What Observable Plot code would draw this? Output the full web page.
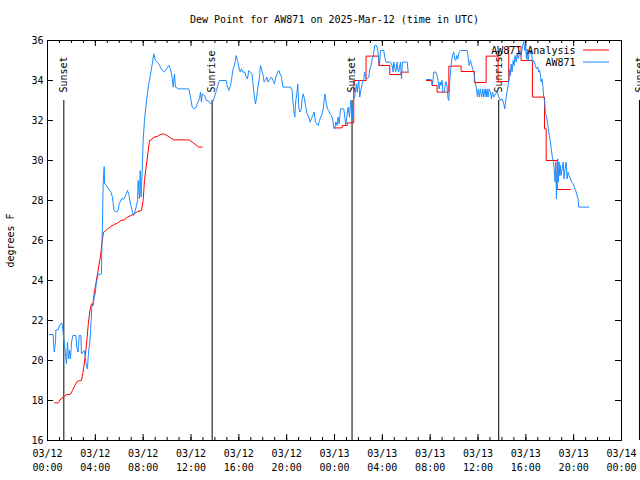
<!DOCTYPE html>
<html><head><meta charset="utf-8">
<script src="https://cdn.jsdelivr.net/npm/d3@7"></script>
<script src="https://cdn.jsdelivr.net/npm/@observablehq/plot@0.6"></script>
<style>body{margin:0;background:#fff} svg{display:block}</style>
</head><body><div id="chart"></div>
<script>
// ---- data (hours since 2025-03-12 00:00 UTC, dew point °F) ----
const titleText = "Dew Point for AW871 on 2025-Mar-12 (time in UTC)";
const yLabel = "degrees F";
const seriesNames = ["AW871 Analysis", "AW871"];
const yTicks = [16,18,20,22,24,26,28,30,32,34,36];

const aw871Obs = [
[0.14,21.3],[0.47,21.3],[0.56,20.42],[0.67,20.92],[0.70,21.53],[0.89,21.53],[0.98,21.72],[1.17,21.88],[1.25,21.75],[1.34,21.17],[1.42,20.83],[1.59,19.83],[1.67,20.92],[1.76,20.08],[1.84,20.5],[1.92,20.08],[2.01,20.92],[2.12,21.25],[2.37,21.25],[2.45,20.67],[2.56,20.42],[2.65,21.25],[2.79,21.25],[2.84,20.33],[2.95,20.42],[3.07,20.5],[3.15,20.25],[3.23,19.83],[3.34,19.58],[3.43,20.42],[3.54,20.92],[3.65,22.0],[3.71,22.75],[3.82,22.75],[3.90,23.17],[3.99,23.33],[4.07,23.83],[4.24,24.33],[4.40,24.3],[4.51,24.33],[4.54,25.5],[4.60,26.92],[4.65,28.75],[4.74,29.7],[4.77,28.83],[4.93,28.75],[5.10,28.58],[5.30,28.42],[5.43,28.17],[5.57,27.5],[5.74,27.42],[5.91,27.5],[5.99,27.83],[6.19,28.08],[6.41,28.08],[6.58,28.33],[6.69,28.5],[6.83,28.25],[6.88,28.0],[6.97,27.75],[7.11,27.42],[7.19,27.25],[7.30,27.42],[7.41,27.67],[7.53,28.0],[7.58,29.0],[7.69,28.08],[7.75,29.5],[7.83,28.17],[7.92,29.5],[8.0,31.0],[8.11,32.0],[8.28,33.0],[8.47,33.83],[8.67,34.5],[8.89,35.33],[9.03,35.0],[9.31,34.83],[9.59,34.5],[9.73,34.42],[9.95,34.58],[10.14,34.75],[10.28,34.58],[10.42,34.17],[10.51,33.67],[10.62,34.33],[10.70,33.67],[10.98,33.58],[11.81,33.58],[11.96,33.17],[12.10,32.67],[12.23,32.58],[12.43,32.67],[12.57,32.92],[12.71,33.08],[12.79,33.42],[12.88,32.92],[12.93,33.33],[13.13,33.25],[13.29,33.0],[13.43,33.0],[13.63,32.83],[13.80,32.92],[13.96,33.17],[14.13,33.5],[14.27,33.83],[14.38,34.0],[14.94,34.0],[15.02,33.75],[15.16,33.5],[15.30,33.75],[15.44,34.25],[15.52,34.58],[15.64,34.75],[15.78,35.25],[15.89,35.0],[16.0,34.67],[16.11,34.42],[16.22,34.58],[16.33,34.42],[16.5,34.42],[16.61,34.17],[16.72,34.08],[16.83,34.5],[16.97,34.42],[17.11,34.33],[17.2,33.75],[17.31,33.17],[17.39,32.83],[17.47,33.08],[17.58,33.58],[17.73,34.17],[17.81,34.75],[17.89,34.58],[18.0,34.33],[18.12,33.92],[18.23,34.0],[18.34,34.17],[18.45,33.92],[18.62,34.08],[18.73,34.17],[18.87,34.0],[18.98,33.83],[19.09,34.17],[19.2,34.33],[19.34,34.5],[19.45,34.33],[19.57,34.17],[19.68,33.67],[20.32,33.67],[20.46,33.5],[20.51,33.08],[20.6,32.5],[20.68,32.17],[20.76,33.0],[20.85,33.33],[20.93,33.83],[21.01,32.67],[21.1,32.42],[21.21,32.5],[21.29,33.08],[21.38,33.33],[21.49,33.08],[21.57,32.75],[21.71,32.33],[21.85,32.17],[21.96,31.92],[22.07,32.08],[22.18,32.25],[22.3,32.42],[22.41,31.92],[22.52,31.83],[22.63,31.75],[22.74,32.0],[22.85,32.17],[22.97,32.33],[23.08,32.67],[23.19,33.33],[23.3,32.92],[23.41,32.58],[23.52,32.5],[23.63,32.33],[23.75,32.25],[23.86,32.0],[23.94,31.67],[24.02,31.58],[24.11,31.92],[24.22,31.75],[24.3,32.17],[24.39,31.83],[24.5,32.58],[24.78,32.58],[24.86,32.17],[24.94,31.75],[25.06,32.33],[25.14,32.67],[25.25,32.17],[25.36,33.0],[25.48,32.08],[25.59,33.08],[25.69,33.17],[25.75,33.5],[25.84,33.83],[25.89,33.42],[26.03,34.0],[26.11,33.17],[26.23,33.58],[26.31,33.83],[26.45,34.08],[26.51,34.42],[26.59,34.17],[26.73,34.08],[26.87,34.17],[26.95,34.58],[27.06,34.75],[27.15,35.08],[27.23,35.17],[27.28,35.42],[27.37,35.75],[27.51,35.75],[27.62,35.5],[27.7,35.08],[27.76,34.75],[27.84,35.5],[28.12,35.5],[28.2,35.17],[28.32,34.92],[28.68,34.92],[28.82,34.75],[28.9,34.42],[28.96,34.92],[29.04,34.67],[29.12,34.42],[29.24,34.92],[29.29,34.58],[29.37,34.42],[29.46,34.75],[29.52,34.92],[29.6,34.08],[29.68,34.92],[30.08,34.92],[30.16,34.45],
[30.9,null],
[31.69,34.05],[32.08,34.05],[32.13,33.92],[32.19,33.78],[32.25,34.08],[32.3,34.42],[32.47,34.42],[32.58,34.25],[32.66,34.0],[32.75,33.58],[32.83,33.92],[32.91,33.75],[33.0,34.0],[33.06,33.42],[33.19,33.42],[33.28,33.92],[33.36,33.92],[33.42,33.67],[33.5,33.08],[33.56,33.0],[33.64,34.0],[33.7,34.42],[33.78,34.92],[33.86,35.25],[33.97,35.42],[34.06,35.08],[34.14,35.0],[34.22,35.25],[34.31,35.08],[34.42,35.42],[34.53,35.5],[35.09,35.5],[35.2,35.08],[35.26,34.75],[35.37,35.0],[35.48,34.75],[35.56,34.58],[35.65,34.42],[35.76,33.92],[35.87,33.58],[35.95,33.17],[36.03,33.58],[36.12,33.17],[36.2,33.58],[36.31,33.17],[36.4,33.58],[36.48,33.17],[36.59,33.58],[36.68,33.17],[36.76,33.58],[36.84,33.17],[36.93,33.58],[37.04,33.42],[37.12,33.08],[37.21,33.42],[37.32,33.17],[37.46,33.33],[37.6,33.42],[37.74,33.17],[37.88,33.0],[38.02,33.08],[38.16,32.83],[38.24,32.58],[38.32,33.0],[38.43,33.42],[38.52,33.75],[38.6,34.08],[38.65,34.58],[38.71,34.25],[38.77,34.83],[38.85,34.42],[38.94,35.0],[39.02,34.75],[39.1,35.25],[39.19,34.92],[39.27,35.33],[39.38,35.08],[39.49,35.5],[39.6,35.25],[39.69,35.58],[39.77,35.83],[39.83,35.95],[39.91,35.5],[39.99,35.75],[40.05,35.08],[40.1,35.58],[40.19,35.0],[40.27,35.33],[40.33,35.58],[40.38,35.33],[40.47,35.5],[40.55,34.92],[40.66,35.0],[40.8,34.75],[40.89,34.58],[41.0,34.67],[41.08,34.42],[41.16,34.5],[41.22,34.25],[41.28,33.92],[41.36,34.08],[41.42,33.75],[41.5,33.17],[41.58,32.92],[41.64,32.33],[41.72,32.25],[41.81,31.92],[41.89,31.5],[41.97,31.25],[42.06,30.92],[42.14,30.5],[42.22,30.17],[42.31,29.92],[42.39,29.42],[42.45,28.92],[42.5,29.92],[42.56,28.08],[42.61,29.25],[42.67,30.08],[42.73,28.92],[42.78,29.92],[42.84,29.25],[42.89,29.75],[42.95,29.25],[43.03,29.58],[43.12,29.92],[43.2,29.08],[43.28,29.58],[43.37,29.92],[43.45,29.08],[43.53,29.42],[43.62,29.25],[43.73,29.08],[43.84,28.92],[43.95,28.83],[44.06,28.67],[44.17,28.5],[44.28,28.25],[44.37,28.08],[44.42,27.67],[45.26,27.67]
];

// analysis, day 1 (smooth segment)
const analysisDay1 = [
[0.61,17.88],[0.89,17.88],[1.11,18.08],[1.34,18.17],[1.62,18.3],[1.90,18.3],[2.09,18.5],[2.29,18.75],[2.51,18.97],[2.84,19.0],[2.95,19.33],[3.07,19.83],[3.21,20.5],[3.29,21.0],[3.40,21.75],[3.48,22.17],[3.57,22.58],[3.68,22.83],[3.79,22.8],[3.90,23.33],[4.04,23.83],[4.18,24.33],[4.32,24.83],[4.46,25.33],[4.54,25.83],[4.68,26.42],[4.79,26.45],[5.02,26.58],[5.30,26.7],[5.57,26.8],[5.85,26.87],[6.13,27.0],[6.41,27.03],[6.69,27.17],[6.97,27.25],[7.25,27.33],[7.53,27.45],[7.86,27.5],[8.0,28.0],[8.11,29.0],[8.25,29.67],[8.39,30.33],[8.53,31.0],[8.67,31.03],[8.89,31.17],[9.17,31.2],[9.45,31.3],[9.73,31.33],[10.0,31.25],[10.28,31.13],[10.56,31.03],[11.82,31.03],[12.1,30.92],[12.37,30.8],[12.65,30.67],[12.93,30.67]
];
// analysis, day 2 (hourly steps)
const analysisDay2 = [
[23.94,31.63],[24.64,31.75],[25.06,31.88],[25.61,34.0],[26.64,35.22],[27.7,34.75],[28.62,34.3],[29.57,34.42],[30.21,34.42],[30.9,null],[31.69,34.0],[32.16,33.75],[32.58,33.42],[33.56,34.72],[34.59,34.45],[35.7,33.9],[36.68,35.22],[37.68,33.95],[38.57,35.7],[39.6,35.0],[40.55,33.17],[41.56,31.58],[41.7,30.0],[42.62,28.55],[43.73,28.55]
];

const eventTimes = ["2025-03-12T01:22Z","2025-03-12T13:46Z","2025-03-13T01:28Z","2025-03-13T13:44Z","2025-03-14T01:30Z"];
const eventLabels = ["Sunset","Sunrise","Sunset","Sunrise","Sunset"];
const eventTop = 33;

// ---- build ----
const t0 = Date.UTC(2025, 2, 12);
const t1 = Date.UTC(2025, 2, 14);
const toRows = arr => arr.map(([h, v]) => ({time: new Date(t0 + h * 3600000), value: v}));
const obs = toRows(aw871Obs);
const an1 = toRows(analysisDay1);
const an2 = toRows(analysisDay2);
const events = eventTimes.map((t, i) => ({time: new Date(t), label: eventLabels[i]}));
const majorTicks = d3.utcHour.every(4).range(new Date(t0), new Date(t1 + 1));
const minorTicks = d3.utcHour.every(1).range(new Date(t0), new Date(t1 + 1));
const fmtD = d3.utcFormat("%m/%d"), fmtT = d3.utcFormat("%H:%M");

const RED = "#ff0000", BLUE = "#1a8cff";
const W = 640, H = 480, ML = 47, MR = 19, MT = 40, MB = 40;
const FW = W - ML - MR, FH = H - MT - MB;

const chart = Plot.plot({
  width: W, height: H,
  marginLeft: ML, marginRight: MR, marginTop: MT, marginBottom: MB,
  style: {fontFamily: "'DejaVu Sans Mono', monospace", fontSize: "10px", color: "black", background: "white"},
  x: {type: "utc", domain: [new Date(t0), new Date(t1)]},
  y: {domain: [16, 36]},
  marks: [
    Plot.frame({stroke: "black"}),
    Plot.axisX({ticks: majorTicks, tickSize: 0, tickPadding: 7, lineHeight: 1.4,
      tickFormat: d => fmtD(d) + "\n" + fmtT(d), label: null}),
    Plot.axisY({ticks: yTicks, tickSize: 0, tickPadding: 4, label: yLabel,
      labelAnchor: "center", labelArrow: "none", labelOffset: 41}),
    Plot.tickX(majorTicks, {x: d => d, insetTop: FH - 6, stroke: "black"}),
    Plot.tickX(majorTicks, {x: d => d, insetBottom: FH - 6, stroke: "black"}),
    Plot.tickX(minorTicks, {x: d => d, insetTop: FH - 3, stroke: "black"}),
    Plot.tickX(minorTicks, {x: d => d, insetBottom: FH - 3, stroke: "black"}),
    Plot.tickY(yTicks, {y: d => d, insetRight: FW - 6, stroke: "black"}),
    Plot.tickY(yTicks, {y: d => d, insetLeft: FW - 6, stroke: "black"}),
    Plot.ruleX(events, {x: "time", y1: 16, y2: eventTop, stroke: "black"}),
    Plot.text(events, {x: "time", y: eventTop, text: "label", rotate: -90, textAnchor: "start", dy: -8, fill: "black"}),
    Plot.line(an1, {x: "time", y: "value", stroke: RED, strokeWidth: 1}),
    Plot.line(an2, {x: "time", y: "value", stroke: RED, strokeWidth: 1, curve: "step-after"}),
    Plot.line(obs, {x: "time", y: "value", stroke: BLUE, strokeWidth: 1}),
    Plot.text([titleText], {frameAnchor: "top", dy: -21, lineAnchor: "middle", fill: "black"}),
    Plot.text([seriesNames[0]], {frameAnchor: "top-right", dx: -46, dy: 10, lineAnchor: "middle", textAnchor: "end", fill: "black"}),
    Plot.text([seriesNames[1]], {frameAnchor: "top-right", dx: -46, dy: 22, lineAnchor: "middle", textAnchor: "end", fill: "black"})
  ]
});

// legend line samples
const svg = d3.select(chart);
[[RED, MT + 10], [BLUE, MT + 22]].forEach(([c, y]) => {
  svg.append("line").attr("x1", W - MR - 38).attr("x2", W - MR - 12)
    .attr("y1", y).attr("y2", y).attr("stroke", c).attr("stroke-width", 1);
});
document.getElementById("chart").appendChild(chart);
</script>
</body></html>
